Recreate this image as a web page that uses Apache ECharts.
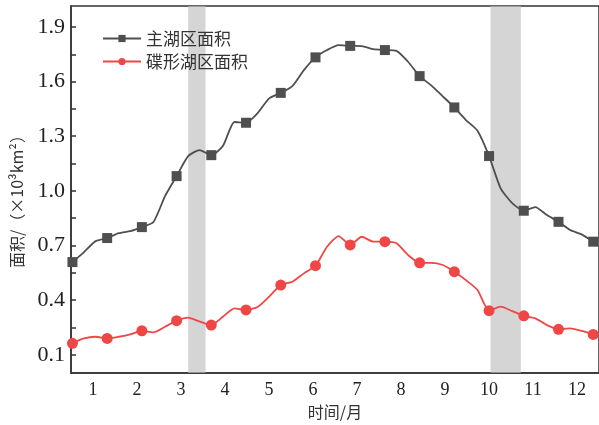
<!DOCTYPE html>
<html>
<head>
<meta charset="utf-8">
<script src="https://cdn.jsdelivr.net/npm/echarts@6/dist/echarts.min.js"></script>
<style>
  html, body { margin: 0; padding: 0; background: #fff; }
  #chart { width: 599px; height: 425px; }
</style>
</head>
<body>
<div id="chart"></div>
<script>
// 月份标签
var months = ['1', '2', '3', '4', '5', '6', '7', '8', '9', '10', '11', '12'];
// 8天合成的年积日
var days = [1, 9, 17, 25, 33, 41, 49, 57, 65, 73, 81, 89, 97, 105, 113, 121,
  129, 137, 145, 153, 161, 169, 177, 185, 193, 201, 209, 217, 225, 233, 241,
  249, 257, 265, 273, 281, 289, 297, 305, 313, 321, 329, 337, 345, 353, 361];
// 主湖区面积 (×10^3 km^2)
var mainLake = [0.609, 0.664, 0.724, 0.741, 0.768, 0.779, 0.801, 0.829, 0.971, 1.081,
  1.191, 1.224, 1.196, 1.246, 1.378, 1.374, 1.427, 1.508, 1.538, 1.575,
  1.663, 1.733, 1.773, 1.800, 1.796, 1.795, 1.778, 1.773, 1.769, 1.709,
  1.630, 1.579, 1.519, 1.458, 1.389, 1.330, 1.191, 1.014, 0.933, 0.891,
  0.911, 0.867, 0.830, 0.785, 0.761, 0.721];
// 碟形湖区面积
var dishLake = [0.163, 0.190, 0.199, 0.190, 0.199, 0.212, 0.232, 0.223, 0.254, 0.287,
  0.304, 0.282, 0.263, 0.309, 0.355, 0.346, 0.362, 0.419, 0.483, 0.501,
  0.547, 0.589, 0.693, 0.752, 0.703, 0.748, 0.721, 0.721, 0.712, 0.648,
  0.605, 0.605, 0.593, 0.556, 0.510, 0.456, 0.342, 0.364, 0.340, 0.314,
  0.300, 0.263, 0.240, 0.245, 0.231, 0.212];
// 灰色阴影时段 (年积日)
var bands = [[81, 93], [290, 311]];
var yLabels = [0.1, 0.4, 0.7, 1.0, 1.3, 1.6, 1.9];
var yTicks = [0.1, 0.25, 0.4, 0.55, 0.7, 0.85, 1.0, 1.15, 1.3, 1.45, 1.6, 1.75, 1.9];
var markerEvery = 3;

var numFont = 'Liberation Serif';
var cjkFont = 'Noto Sans CJK SC';

function pairs(vals) {
  return vals.map(function (v, i) { return [days[i], v]; });
}
function markerSize(size) {
  return function (val, params) {
    return params.dataIndex % markerEvery === 0 ? size : 0;
  };
}

try {
  var myChart = echarts.init(document.getElementById('chart'));
  myChart.setOption({
    animation: false,
    grid: {
      left: 71, right: 0, top: 6, bottom: 52,
      show: true, borderColor: '#333', borderWidth: 1.5
    },
    legend: {
      data: ['主湖区面积', '碟形湖区面积'],
      orient: 'vertical',
      left: 97, top: 25,
      itemWidth: 38, itemHeight: 9, itemGap: 6,
      textStyle: { fontFamily: cjkFont, fontSize: 17, color: '#333' }
    },
    xAxis: [{
      type: 'category',
      data: months,
      boundaryGap: true,
      name: '时间/月',
      nameLocation: 'middle',
      nameGap: 30,
      nameTextStyle: { fontFamily: cjkFont, fontSize: 16, color: '#333' },
      axisLine: { lineStyle: { color: '#333', width: 1.5 } },
      axisTick: { inside: true, length: 5, lineStyle: { color: '#333', width: 1.5 } },
      axisLabel: { fontFamily: numFont, fontSize: 18, color: '#222', margin: 8 },
      splitLine: { show: false }
    }, {
      type: 'value',
      min: 0, max: 365,
      show: false
    }],
    yAxis: {
      type: 'value',
      min: 0, max: 2.015,
      name: '面积/（×10³km²）',
      nameLocation: 'middle',
      nameGap: 46,
      nameTextStyle: { fontFamily: cjkFont, fontSize: 16, color: '#333', padding: [0, 16, 0, 0] },
      axisLine: { show: true, lineStyle: { color: '#333', width: 1.5 } },
      axisTick: { show: true, inside: true, length: 5, customValues: yTicks,
        lineStyle: { color: '#333', width: 1.5 } },
      axisLabel: {
        customValues: yLabels,
        fontFamily: numFont, fontSize: 22, color: '#222', margin: 6,
        formatter: function (v) { return v.toFixed(1); }
      },
      splitLine: { show: false }
    },
    series: [{
      name: '主湖区面积',
      type: 'line',
      xAxisIndex: 1,
      data: pairs(mainLake),
      smooth: 0.2,
      symbol: 'rect',
      symbolSize: markerSize(10),
      showAllSymbol: true,
      lineStyle: { color: '#4f4f4f', width: 1.8 },
      itemStyle: { color: '#4f4f4f' },
      z: 3
    }, {
      name: '碟形湖区面积',
      type: 'line',
      xAxisIndex: 1,
      data: pairs(dishLake),
      smooth: 0.2,
      symbol: 'circle',
      symbolSize: markerSize(11),
      showAllSymbol: true,
      lineStyle: { color: '#ef4646', width: 1.8 },
      itemStyle: { color: '#ef4646' },
      z: 3
    }, {
      name: 'bands',
      type: 'line',
      xAxisIndex: 1,
      data: [],
      z: 10,
      markArea: {
        silent: true,
        itemStyle: { color: 'rgba(190,190,190,0.65)' },
        data: bands.map(function (b) { return [{ xAxis: b[0] }, { xAxis: b[1] }]; })
      }
    }]
  });
} catch (e) { console.log(e); }
</script>
</body>
</html>
